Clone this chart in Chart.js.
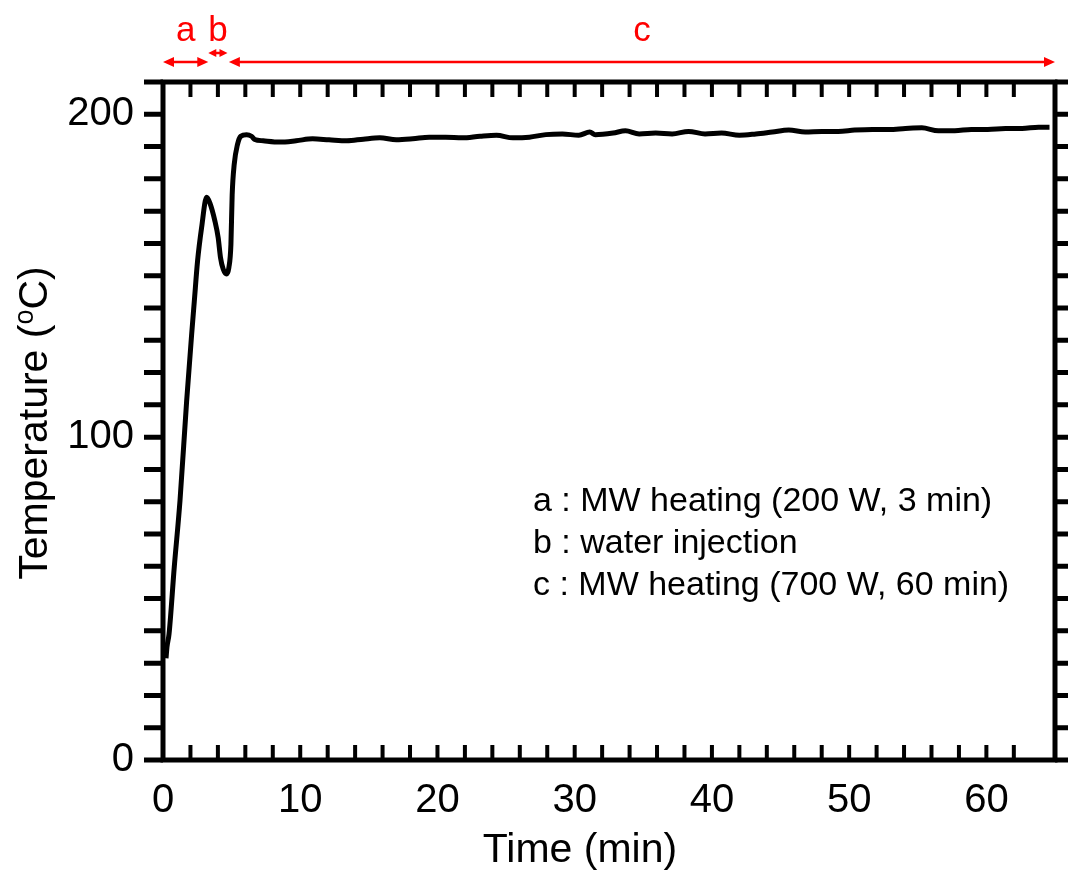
<!DOCTYPE html>
<html>
<head>
<meta charset="utf-8">
<script src="https://cdn.jsdelivr.net/npm/chart.js@4"></script>
<style>
  body { margin: 0; background: #fff; }
  canvas { display: block; }
</style>
</head>
<body>
<canvas id="temp-profile" width="1068" height="874"></canvas>
<script>
const FONT = "'Liberation Sans', Arial, sans-serif"

// Temperature log
const times = [0.22, 0.29, 0.44, 0.82, 1.24, 1.72, 2.09, 2.28, 2.52, 2.81,
  3.18, 3.42, 3.78, 4.02, 4.19, 4.39, 4.63, 4.8, 4.95, 5.04,
  5.19, 5.43, 5.67, 6.09, 6.45, 6.69, 7.3, 8.5, 9.7, 10.9,
  12.1, 13.4, 14.6, 15.8, 17.0, 18.2, 19.4, 20.6, 21.8, 23.1,
  24.3, 25.5, 26.7, 27.9, 29.1, 30.3, 31.1, 31.5, 32.8, 33.7,
  34.7, 35.9, 37.1, 38.3, 39.5, 40.7, 42.0, 43.2, 44.4, 45.6,
  46.8, 48.0, 49.2, 50.4, 51.7, 52.9, 54.1, 55.3, 56.5, 57.7,
  58.9, 60.1, 61.4, 62.6, 63.8, 64.6]
const temps = [31.5, 35, 39, 59.7, 80.4, 111, 132, 142, 154.6, 164.8,
  174.3, 172.5, 167, 161.8, 155.6, 152, 150.5, 152.5, 159.8, 175,
  184.5, 190.7, 193.2, 193.7, 193.2, 192.2, 191.8, 191.4, 191.8, 192.4,
  192.1, 191.8, 192.3, 192.7, 192.1, 192.4, 192.9, 192.9, 192.7, 193.2,
  193.5, 192.7, 192.9, 193.7, 193.9, 193.5, 194.5, 193.7, 194.2, 194.9,
  193.9, 194.2, 193.9, 194.7, 193.9, 194.2, 193.5, 193.9, 194.5, 195.1,
  194.5, 194.7, 194.7, 195.1, 195.3, 195.3, 195.6, 195.8, 194.9, 194.9,
  195.3, 195.3, 195.6, 195.6, 196.0, 196.0]

// Axis ticks
const xTickStep = 2
const xLabelEvery = 10
const yTickStep = 10
const yLabelEvery = 100

// Heating phases (red arrows above the frame)
const phaseNames = ['a', 'b', 'c']
const phaseStart = [0, 3.3, 4.8]
const phaseEnd = [3.3, 4.7, 65]

const notes = [
  'a : MW heating (200 W, 3 min)',
  'b : water injection',
  'c : MW heating (700 W, 60 min)',
]

function arrow(ctx, x1, x2, y, len, half) {
  ctx.beginPath()
  ctx.moveTo(x1 + len * 0.6, y)
  ctx.lineTo(x2 - len * 0.6, y)
  ctx.stroke()
  ctx.beginPath()
  ctx.moveTo(x1, y); ctx.lineTo(x1 + len, y - half); ctx.lineTo(x1 + len, y + half)
  ctx.closePath()
  ctx.moveTo(x2, y); ctx.lineTo(x2 - len, y - half); ctx.lineTo(x2 - len, y + half)
  ctx.closePath()
  ctx.fill()
}

// frame, inward/outward ticks, phase arrows, notes, axis titles
const decorations = {
  id: 'decorations',
  afterDraw(chart) {
    const { ctx, chartArea: a, scales: { x, y } } = chart
    ctx.save()
    ctx.strokeStyle = '#000'
    ctx.lineWidth = 5
    ctx.strokeRect(a.left, a.top, a.right - a.left, a.bottom - a.top)

    ctx.beginPath()
    y.ticks.forEach(t => {
      if (t.value % yTickStep) return
      const py = y.getPixelForValue(t.value)
      ctx.moveTo(a.left - 19, py); ctx.lineTo(a.left, py)
      ctx.moveTo(a.right, py); ctx.lineTo(a.right + 19, py)
    })
    ctx.stroke()

    ctx.lineWidth = 4
    ctx.beginPath()
    x.ticks.forEach(t => {
      if (t.value % xTickStep || t.value >= x.max) return
      const px = x.getPixelForValue(t.value)
      ctx.moveTo(px, a.bottom); ctx.lineTo(px, a.bottom - 15)
      ctx.moveTo(px, a.top); ctx.lineTo(px, a.top + 15)
    })
    ctx.stroke()

    // phase arrows
    ctx.strokeStyle = '#ff0000'
    ctx.fillStyle = '#ff0000'
    ctx.lineWidth = 2.5
    ctx.font = '35px ' + FONT
    ctx.textAlign = 'center'
    ctx.textBaseline = 'alphabetic'
    phaseNames.forEach((name, i) => {
      const x1 = x.getPixelForValue(phaseStart[i])
      const x2 = x.getPixelForValue(phaseEnd[i])
      const short = x2 - x1 < 30
      arrow(ctx, x1, x2, short ? 53 : 62, short ? 8 : 11, short ? 4 : 5)
      ctx.fillText(name, (x1 + x2) / 2, 41)
    })

    // notes
    ctx.fillStyle = '#000'
    ctx.textAlign = 'left'
    ctx.font = '34px ' + FONT
    notes.forEach((n, i) => ctx.fillText(n, 533, 511 + i * 42))

    // x title
    ctx.textAlign = 'center'
    ctx.textBaseline = 'middle'
    ctx.font = '41px ' + FONT
    ctx.fillText('Time (min)', 580, 851)

    // y title with superscript o
    ctx.textAlign = 'left'
    ctx.translate(36, (a.top + a.bottom) / 2 + 2)
    ctx.rotate(-Math.PI / 2)
    const big = '41px ' + FONT, small = '27px ' + FONT
    ctx.font = big
    const w1 = ctx.measureText('Temperature (').width
    const w3 = ctx.measureText('C)').width
    ctx.font = small
    const w2 = ctx.measureText('o').width
    let px = -(w1 + w2 + w3) / 2
    ctx.font = big
    ctx.fillText('Temperature (', px, 0); px += w1
    ctx.font = small
    ctx.fillText('o', px, -10); px += w2
    ctx.font = big
    ctx.fillText('C)', px, 0)
    ctx.restore()
  },
}

const ctxTemp = document.getElementById('temp-profile').getContext('2d')

const configTemp = {
  type: 'line',
  data: {
    datasets: [
      {
        data: times.map((t, i) => ({ x: t, y: temps[i] })),
        borderColor: '#000',
        borderWidth: 5,
        pointRadius: 0,
        cubicInterpolationMode: 'monotone',
        fill: false,
      },
    ],
  },
  options: {
    responsive: false,
    animation: false,
    layout: { padding: { top: 82, right: 13, left: 0, bottom: 0 } },
    plugins: { legend: { display: false }, tooltip: { enabled: false } },
    scales: {
      x: {
        type: 'linear',
        min: 0,
        max: 65,
        afterFit: s => { s.height = 114 },
        grid: { display: false },
        border: { display: false },
        ticks: {
          stepSize: xTickStep,
          autoSkip: false,
          maxRotation: 0,
          padding: 9,
          color: '#000',
          font: { size: 40, family: FONT },
          callback: v => (v % xLabelEvery === 0 && v < 65 ? v : ''),
        },
      },
      y: {
        min: 0,
        max: 210,
        afterFit: s => { s.width = 163 },
        grid: { display: false },
        border: { display: false },
        ticks: {
          stepSize: yTickStep,
          autoSkip: false,
          padding: 21,
          color: '#000',
          font: { size: 40, family: FONT },
          callback: v => (v % yLabelEvery === 0 ? v : ''),
        },
      },
    },
  },
  plugins: [decorations],
}
const tempChart = new Chart(ctxTemp, configTemp)
</script>
</body>
</html>
